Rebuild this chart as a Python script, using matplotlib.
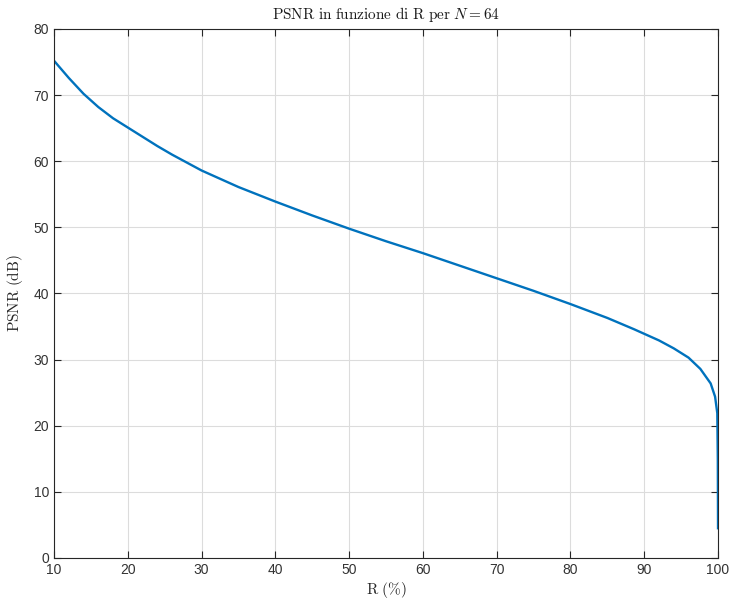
import matplotlib
matplotlib.use("Agg")
import matplotlib.pyplot as plt

# compression ratio R (%) and resulting PSNR (dB), block size N = 64
r_percent = [10, 12, 14, 16, 18, 20, 22, 24, 26, 28, 30, 35, 40, 45, 50, 55,
             60, 65, 70, 75, 80, 85, 88.6, 90, 92, 94, 96, 97.6, 99.0, 99.6,
             99.9, 99.97, 100]
psnr_db = [75.2, 72.6, 70.2, 68.2, 66.5, 65.1, 63.7, 62.3, 61.0, 59.8, 58.6,
           56.1, 53.9, 51.8, 49.8, 47.9, 46.1, 44.2, 42.3, 40.4, 38.4, 36.3,
           34.6, 33.9, 32.9, 31.7, 30.3, 28.6, 26.4, 24.4, 21.9, 15.0, 4.5]

x_ticks = list(range(10, 101, 10))
y_ticks = list(range(0, 81, 10))

plt.rcParams['mathtext.fontset'] = 'cm'
plt.rcParams['font.family'] = ['Liberation Sans', 'DejaVu Sans']

fig = plt.figure(figsize=(7.3, 6.04), dpi=100)
ax = fig.add_axes([0.074, 0.0762, 0.9096, 0.8758])

ax.plot(r_percent, psnr_db, color='#0072BD', linewidth=1.7)

ax.set_xlim(10, 100)
ax.set_ylim(0, 80)
ax.set_xticks(x_ticks)
ax.set_yticks(y_ticks)
ax.grid(True, color='#dcdcdc', linewidth=0.8)
ax.set_axisbelow(True)

edge = '#262626'
for s in ax.spines.values():
    s.set_color(edge)
    s.set_linewidth(0.8)
ax.tick_params(direction='in', length=5, width=0.8, color=edge,
               labelcolor='#333333', labelsize=10, top=True, right=True)

ax.set_title(r'$\mathrm{PSNR\ in\ funzione\ di\ R\ per\ }N=64$',
             fontsize=11, color='#1a1a1a', pad=7)
ax.set_xlabel(r'$\mathrm{R\ (\%)}$', fontsize=11, color='#262626', labelpad=2)
ax.set_ylabel(r'$\mathrm{PSNR\ (dB)}$', fontsize=11, color='#262626', labelpad=6)

fig.savefig('out.png', dpi=100)
